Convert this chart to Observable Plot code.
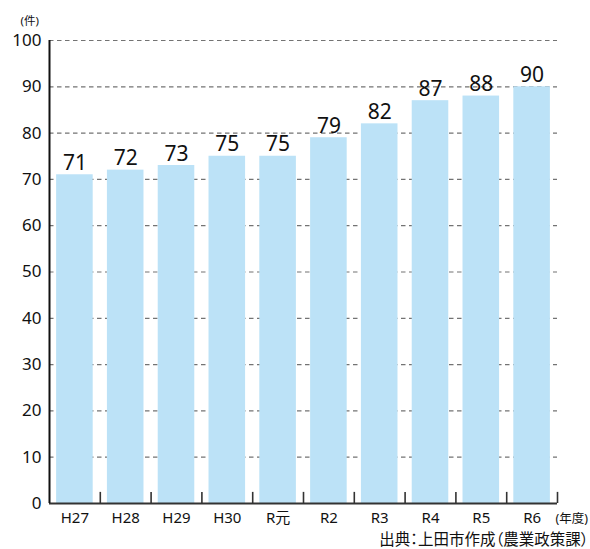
<!DOCTYPE html>
<html>
<head>
<meta charset="utf-8">
<script src="https://cdn.jsdelivr.net/npm/d3@7"></script>
<script src="https://cdn.jsdelivr.net/npm/@observablehq/plot@0.6"></script>
<style>
  html, body { margin: 0; padding: 0; background: #fff; }
  svg { display: block; }
  svg text { font-feature-settings: "palt"; }
</style>
</head>
<body>
<div id="chart"></div>
<script>
const categories = ["H27", "H28", "H29", "H30", "R元", "R2", "R3", "R4", "R5", "R6"];
const values = [71, 72, 73, 75, 75, 79, 82, 87, 88, 90];
const yTicks = [0, 10, 20, 30, 40, 50, 60, 70, 80, 90, 100];
const unitLabel = "(件)";
const xUnitLabel = "(年度)";
const caption = "出典：上田市作成（農業政策課）";

const data = categories.map((c, i) => ({ category: c, index: i, value: values[i] }));
const boundaries = d3.range(1, categories.length + 1);
const font = "'Noto Sans', 'Noto Sans CJK JP', sans-serif";

const chart = Plot.plot({
  width: 590,
  height: 549,
  marginLeft: 49,
  marginRight: 33,
  marginTop: 40,
  marginBottom: 46,
  style: { fontFamily: font, background: "#fff", overflow: "visible" },
  x: { domain: [0, categories.length], axis: null },
  y: { domain: [0, 100], axis: null },
  marks: [
    Plot.ruleY(yTicks.filter(d => d > 0), { stroke: "#737373", strokeWidth: 1.2, strokeDasharray: "4.5,3.5" }),
    Plot.rectY(data, { x1: d => d.index + 0.14, x2: d => d.index + 0.86, y: "value", fill: "#bce2f7" }),
    Plot.text(data, { x: d => d.index + 0.5, y: "value", text: d => String(d.value), lineAnchor: "bottom", dy: -5, fontSize: 21, fill: "#111" }),
    Plot.ruleX(boundaries, { y1: 0, y2: 2.4, stroke: "#333", strokeWidth: 1.6 }),
    Plot.ruleY([0], { stroke: "#333", strokeWidth: 2 }),
    Plot.ruleX([0], { y1: 0, y2: 100, stroke: "#111", strokeWidth: 2 }),
    Plot.text(yTicks, { x: 0, y: d => d, text: d => String(d), textAnchor: "end", dx: -8, fontSize: 17, fill: "#111" }),
    Plot.text(data, { x: d => d.index + 0.5, text: "category", frameAnchor: "bottom", lineAnchor: "middle", dy: 15, fontSize: 15, fill: "#111" }),
    Plot.text([unitLabel], { frameAnchor: "top-left", text: d => d, dx: -29, dy: -19, lineAnchor: "middle", fontSize: 11.5, fill: "#111" }),
    Plot.text([xUnitLabel], { frameAnchor: "bottom-right", text: d => d, textAnchor: "start", dx: -2, dy: 15, lineAnchor: "middle", fontSize: 12.5, fill: "#111" }),
    Plot.text([caption], { frameAnchor: "bottom-right", text: d => d, textAnchor: "end", dx: 31, dy: 36.5, lineAnchor: "middle", fontSize: 15.5, fill: "#111" })
  ]
});
document.getElementById("chart").appendChild(chart);
</script>
</body>
</html>
